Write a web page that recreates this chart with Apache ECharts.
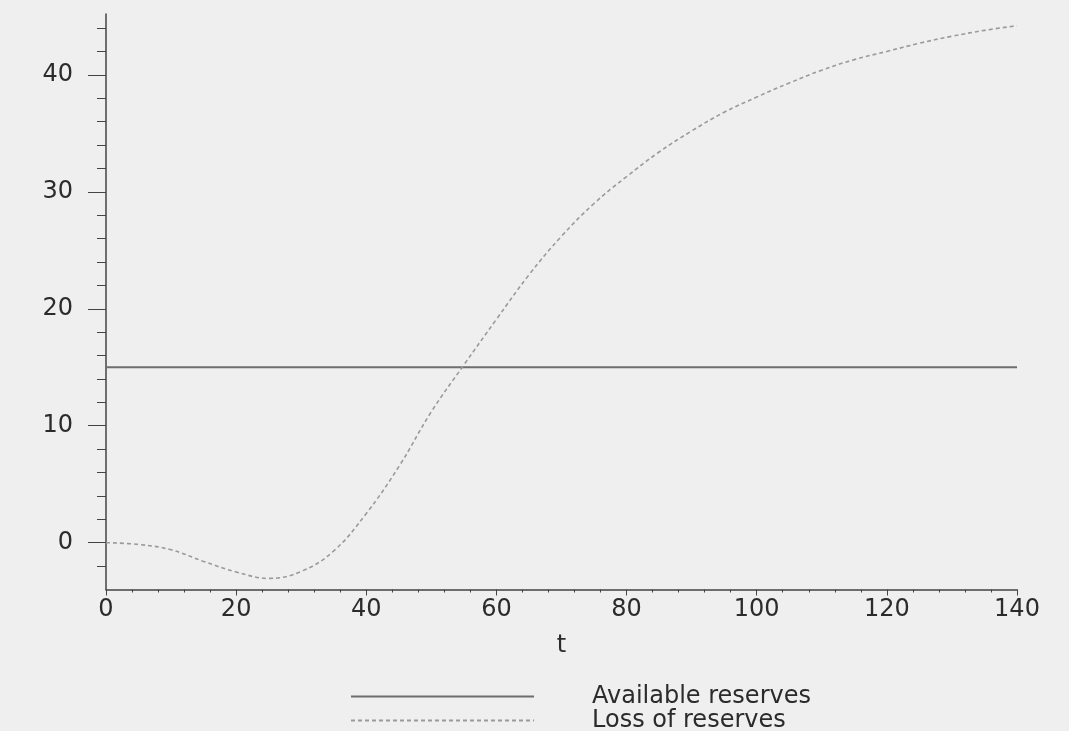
<!DOCTYPE html>
<html>
<head>
<meta charset="utf-8">
<title>Reserves</title>
<script src="https://cdn.jsdelivr.net/npm/echarts@6/dist/echarts.min.js"></script>
<style>
  html, body { margin: 0; padding: 0; background: #efefef; }
  #chart { width: 1069px; height: 731px; }
</style>
</head>
<body>
<div id="chart"></div>
<script>
// t values and the two curves
const tValues = [0, 5, 10, 15, 20, 25, 30, 35, 40, 45, 50, 55, 60, 65, 70,
  75, 80, 85, 90, 95, 100, 105, 110, 115, 120, 125, 130, 135, 140]
const lossValues = [0, -0.15, -0.6, -1.6, -2.5, -3.05, -2.45, -0.7, 2.5, 6.5, 11.2, 15.2, 19.1, 22.9, 26.2,
  29.0, 31.3, 33.4, 35.2, 36.8, 38.1, 39.3, 40.4, 41.3, 42.0, 42.7, 43.3, 43.8, 44.2]
const availableT = [0, 140]
const availableValues = [15, 15]

const xTicks = [0, 20, 40, 60, 80, 100, 120, 140]
const yTicks = [0, 10, 20, 30, 40]
const yMinorTicks = [-2, 2, 4, 6, 8, 12, 14, 16, 18, 22, 24, 26, 28, 32, 34, 36, 38, 42, 44]

const font = 'DejaVu Sans'
const textColor = '#2b2b2b'
const axisColor = '#444'

const chart = echarts.init(document.getElementById('chart'))

const yBase = {
  type: 'value',
  min: -4,
  max: 45.2,
  position: 'left',
  splitLine: { show: false },
  minorTick: { show: false }
}

const option = {
  backgroundColor: '#efefef',
  animation: false,
  grid: { left: 106, right: 52, top: 14, bottom: 141.5 },
  legend: {
    orient: 'vertical',
    left: 350,
    top: 684.5,
    height: 120,
    padding: 0,
    itemWidth: 183,
    itemHeight: 14,
    itemGap: 0,
    itemStyle: { opacity: 0 },
    textStyle: {
      fontFamily: font,
      fontSize: 24,
      lineHeight: 23,
      color: textColor,
      padding: [0, 0, 0, 53]
    },
    data: ['Available reserves', 'Loss of reserves']
  },
  xAxis: {
    type: 'value',
    min: 0,
    max: 140,
    interval: 20,
    name: 't',
    nameLocation: 'middle',
    nameGap: 44,
    nameTextStyle: { fontFamily: font, fontSize: 24, color: textColor },
    axisLine: { onZero: false, lineStyle: { color: axisColor, width: 1.5 } },
    axisTick: { show: true, length: 6, customValues: xTicks, lineStyle: { color: axisColor } },
    minorTick: { show: true, splitNumber: 5, length: 3, lineStyle: { color: axisColor } },
    axisLabel: {
      customValues: xTicks,
      margin: 8,
      fontFamily: font,
      fontSize: 24,
      color: textColor
    },
    splitLine: { show: false }
  },
  yAxis: [
    Object.assign({}, yBase, {
      axisLine: { show: true, lineStyle: { color: axisColor, width: 1.5 } },
      axisTick: { show: true, length: 18, customValues: yTicks, lineStyle: { color: axisColor } },
      axisLabel: {
        customValues: yTicks,
        margin: 33,
        fontFamily: font,
        fontSize: 24,
        color: textColor
      }
    }),
    Object.assign({}, yBase, {
      offset: 0,
      axisLine: { show: false },
      axisTick: { show: true, length: 9, customValues: yMinorTicks, lineStyle: { color: axisColor } },
      axisLabel: { show: false }
    })
  ],
  series: [
    {
      name: 'Available reserves',
      type: 'line',
      yAxisIndex: 0,
      data: availableT.map((t, i) => [t, availableValues[i]]),
      showSymbol: false,
      symbol: 'none',
      lineStyle: { color: '#6e6e6e', width: 2 },
      itemStyle: { color: '#6e6e6e' }
    },
    {
      name: 'Loss of reserves',
      type: 'line',
      yAxisIndex: 0,
      data: tValues.map((t, i) => [t, lossValues[i]]),
      smooth: 0.4,
      showSymbol: false,
      symbol: 'none',
      lineStyle: { color: '#9a9a9a', width: 1.6, type: [4, 3] },
      itemStyle: { color: '#9a9a9a' }
    }
  ]
}

chart.setOption(option)
</script>
</body>
</html>
